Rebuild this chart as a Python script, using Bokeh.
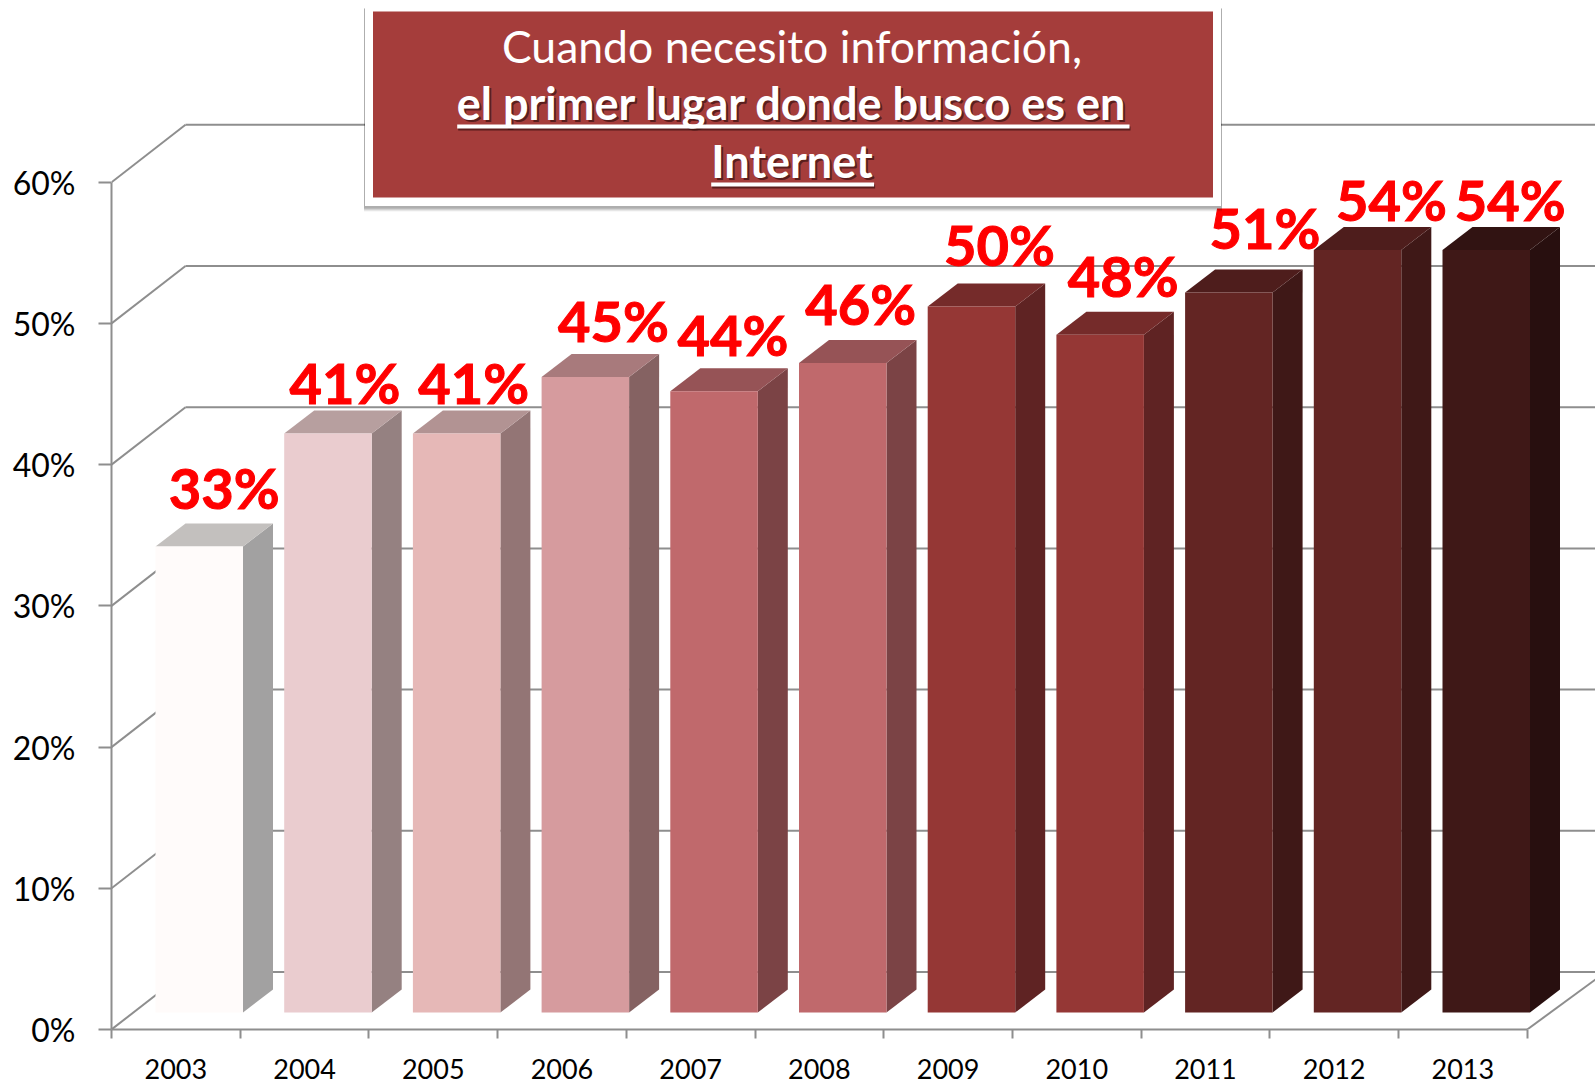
from bokeh.plotting import figure
from bokeh.models import Range1d, LinearAxis, FixedTicker, ColumnDataSource
from bokeh.core.properties import value
from bokeh.embed import file_html
from bokeh.resources import INLINE

years = ["2003","2004","2005","2006","2007","2008","2009","2010","2011","2012","2013"]
shares = [33, 41, 41, 45, 44, 46, 50, 48, 51, 54, 54]
y_ticks = [0, 10, 20, 30, 40, 50, 60]
y_labels = ["0%", "10%", "20%", "30%", "40%", "50%", "60%"]
title_lines = ["Cuando necesito información,", "el primer lugar donde busco es en", "Internet"]

front_colors = ["#FFFBFA","#EACCCF","#E6B8B7","#D69B9E","#C0696C","#C0696C","#953735","#953735","#632523","#632523","#3F1817"]
side_colors  = ["#A2A1A1","#958181","#937575","#856262","#7B4345","#7B4345","#5F2323","#5F2323","#3F1817","#3F1817","#280F0F"]
top_colors   = ["#C3C0BE","#B79F9F","#B29393","#A87A7C","#965356","#965356","#752B2A","#752B2A","#4E1D1C","#4E1D1C","#311312"]

# hand placed label nudges (pixels), relative to the bar's front-top centre
label_dx = [25, 17, 17, 28, 19, 18, 28, 23, 36, 34, 24]
label_dy = [59, 51, 51, 57, 57, 59, 62, 59, 65, 51, 51]

W, H = 1595, 1084
LEFT, BOTTOM = 111, 55
CAT_PX, VAL_PX = 128.7, 14.12
AXIS = "#8E8E8E"
FONT = "Lato"

x_max = (W - LEFT) / CAT_PX
y_max = (H - BOTTOM) / VAL_PX

def px_x(page_x):
    return (page_x - LEFT) / CAT_PX

def px_y(page_y):
    return (H - BOTTOM - page_y) / VAL_PX

p = figure(width=W, height=H, output_backend="svg", toolbar_location=None,
           x_range=Range1d(0, x_max), y_range=Range1d(0, y_max),
           x_axis_type=None, y_axis_type=None,
           min_border_left=LEFT, min_border_right=0, min_border_top=0, min_border_bottom=BOTTOM,
           outline_line_color=None, background_fill_color="white", border_fill_color="white")
p.grid.visible = False

# axes
ax_left = LinearAxis(ticker=FixedTicker(ticks=y_ticks),
                     major_label_overrides={t: l for t, l in zip(y_ticks, y_labels)},
                     bounds=(0, 60), axis_line_color=AXIS, axis_line_width=2,
                     major_tick_line_color=AXIS, major_tick_line_width=2,
                     major_tick_out=13, major_tick_in=0, minor_tick_out=0, minor_tick_in=0,
                     major_label_standoff=23, major_label_text_color="black",
                     major_label_text_font=FONT, major_label_text_font_size="32px")
p.add_layout(ax_left, "left")

n = len(years)
centers = [i + 0.5 for i in range(n)]
ax_years = LinearAxis(ticker=FixedTicker(ticks=centers, minor_ticks=list(range(n + 1))),
                      major_label_overrides={c: y for c, y in zip(centers, years)},
                      bounds=(0, n), axis_line_color=AXIS, axis_line_width=2,
                      major_tick_out=0, major_tick_in=0, major_tick_line_color=None,
                      minor_tick_out=9, minor_tick_in=0, minor_tick_line_color=AXIS, minor_tick_line_width=2,
                      major_label_standoff=20, major_label_text_color="black",
                      major_label_text_font=FONT, major_label_text_font_size="27px")
p.add_layout(ax_years, "below")

# walls
WALL_DX, WALL_DY = 74 / CAT_PX, 57.5 / VAL_PX
for v in y_ticks:
    p.line([0, WALL_DX], [v, v + WALL_DY], line_color=AXIS, line_width=2)
    p.line([WALL_DX, x_max], [v + WALL_DY, v + WALL_DY], line_color=AXIS, line_width=2)
p.line([n, n + 68.3 / CAT_PX], [0, 50 / VAL_PX], line_color=AXIS, line_width=2)

# bars
BAR_X0 = 44 / CAT_PX
BAR_W = 87.5 / CAT_PX
BASE = 17 / VAL_PX
D_X, D_Y = 30 / CAT_PX, 23 / VAL_PX
for i, v in enumerate(shares):
    x0 = i + BAR_X0
    x1 = x0 + BAR_W
    b, t = BASE, BASE + v
    p.patch([x1, x1 + D_X, x1 + D_X, x1], [b, b + D_Y, t + D_Y, t], fill_color=side_colors[i], line_color=None)
    p.patch([x0, x1, x1 + D_X, x0 + D_X], [t, t, t + D_Y, t + D_Y], fill_color=top_colors[i], line_color=None)
    p.quad(left=x0, right=x1, bottom=b, top=t, fill_color=front_colors[i], line_color=None)

# value labels
src = ColumnDataSource(dict(
    x=[i + BAR_X0 + BAR_W / 2 for i in range(n)],
    y=[BASE + v for v in shares],
    t=[f"{v}%" for v in shares],
    xo=label_dx,
    yo=[-d for d in label_dy],
))
p.text("x", "y", text="t", source=src, x_offset="xo", y_offset="yo",
       text_color="#FF0000", text_font=value(FONT), text_font_style="bold",
       text_outline_color="#FF0000",
       text_font_size="56px", text_align="center", text_baseline="middle")

# title box
for k, a in [(6, 0.06), (5, 0.08), (4, 0.10), (3, 0.12)]:
    p.quad(left=px_x(364.5 - 1), right=px_x(1220.5 + 1), top=px_y(8), bottom=px_y(205 + k),
           fill_color="black", fill_alpha=a, line_color=None)
p.quad(left=px_x(364.5), right=px_x(1220.5), top=px_y(3), bottom=px_y(205.5), fill_color="white", line_color=None)
p.quad(left=px_x(372.5), right=px_x(1212.5), top=px_y(11), bottom=px_y(197), fill_color="#A53D3B", line_color=None)

TEXT_SHIFT = 17  # svg baseline correction
TX = px_x(791.5)
p.text([TX], [px_y(62 - TEXT_SHIFT)], text=[title_lines[0]], text_color="white", text_font=value(FONT),
       text_font_size="44.5px", text_align="center", text_baseline="alphabetic")
for line, base_y, ux0, ux1 in [(title_lines[1], 119, 456.7, 1129), (title_lines[2], 177, 710.7, 873.6)]:
    p.text([TX], [px_y(base_y - TEXT_SHIFT + 2)], x_offset=[2], text=[line], text_color="#3a1010", text_alpha=0.7,
           text_font=value(FONT), text_font_style="bold", text_font_size="45px",
           text_align="center", text_baseline="alphabetic")
    p.line([px_x(ux0 + 1), px_x(ux1 + 1)], [px_y(base_y + 9)] * 2, line_color="#3a1010", line_alpha=0.7, line_width=4)
    p.text([TX], [px_y(base_y - TEXT_SHIFT)], text=[line], text_color="white",
           text_font=value(FONT), text_font_style="bold", text_font_size="45px",
           text_align="center", text_baseline="alphabetic")
    p.line([px_x(ux0), px_x(ux1)], [px_y(base_y + 7)] * 2, line_color="white", line_width=4)

open("out.html", "w").write(file_html(p, INLINE))
